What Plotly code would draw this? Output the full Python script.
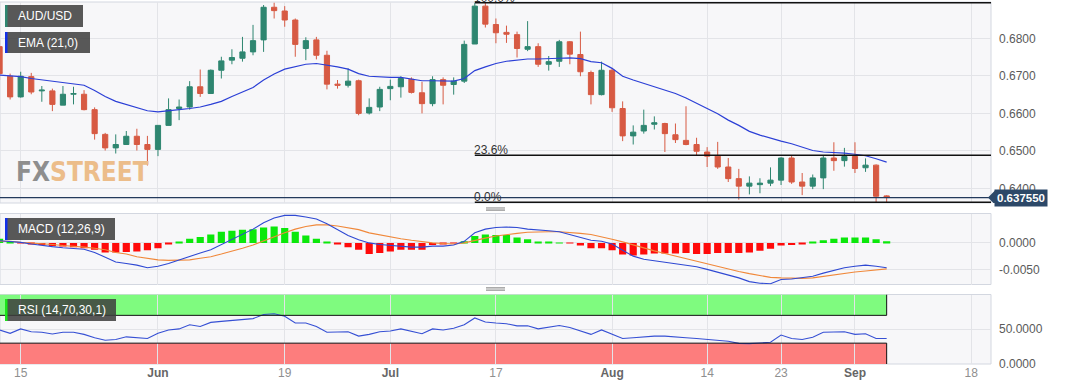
import pandas as pd
import plotly.graph_objects as go

# ---------------- data ----------------
dates = pd.bdate_range("2023-05-11", "2023-09-06")      # daily candles
calendar = pd.bdate_range("2023-05-11", "2023-09-29")   # trading-day axis

open_ = [
    0.6778, 0.6699, 0.6644, 0.6698, 0.6660, 0.6660, 0.6622, 0.6651, 0.6651, 0.6610,
    0.6544, 0.6508, 0.6517, 0.6539, 0.6517, 0.6504, 0.6568, 0.6613, 0.6617, 0.6671,
    0.6653, 0.6715, 0.6742, 0.6747, 0.6764, 0.6796, 0.6883, 0.6873, 0.6849, 0.6773,
    0.6796, 0.6755, 0.6678, 0.6675, 0.6687, 0.6601, 0.6617, 0.6666, 0.6671, 0.6691,
    0.6655, 0.6626, 0.6690, 0.6677, 0.6686, 0.6785, 0.6886, 0.6837, 0.6816, 0.6810,
    0.6771, 0.6778, 0.6731, 0.6739, 0.6791, 0.6757, 0.6709, 0.6650, 0.6715, 0.6613,
    0.6540, 0.6553, 0.6571, 0.6573, 0.6543, 0.6528, 0.6517, 0.6497, 0.6486, 0.6457,
    0.6426, 0.6406, 0.6410, 0.6414, 0.6422, 0.6481, 0.6417, 0.6406, 0.6428, 0.6481,
    0.6474, 0.6485, 0.6455, 0.6462, 0.6380]
high = [
    0.6796, 0.6706, 0.6711, 0.6708, 0.6673, 0.6666, 0.6673, 0.6671, 0.6662, 0.6616,
    0.6548, 0.6544, 0.6553, 0.6559, 0.6540, 0.6568, 0.6640, 0.6637, 0.6686, 0.6717,
    0.6717, 0.6751, 0.6771, 0.6804, 0.6836, 0.6889, 0.6895, 0.6886, 0.6853, 0.6803,
    0.6804, 0.6767, 0.6689, 0.6720, 0.6690, 0.6640, 0.6671, 0.6690, 0.6699, 0.6696,
    0.6684, 0.6699, 0.6696, 0.6696, 0.6794, 0.6894, 0.6895, 0.6853, 0.6834, 0.6818,
    0.6846, 0.6787, 0.6753, 0.6796, 0.6793, 0.6818, 0.6714, 0.6738, 0.6720, 0.6632,
    0.6568, 0.6610, 0.6592, 0.6575, 0.6573, 0.6619, 0.6535, 0.6510, 0.6524, 0.6481,
    0.6452, 0.6432, 0.6427, 0.6456, 0.6483, 0.6488, 0.6441, 0.6437, 0.6488, 0.6523,
    0.6508, 0.6523, 0.6480, 0.6464, 0.6382]
low = [
    0.6689, 0.6637, 0.6642, 0.6651, 0.6631, 0.6606, 0.6622, 0.6624, 0.6608, 0.6530,
    0.6501, 0.6493, 0.6517, 0.6501, 0.6461, 0.6486, 0.6568, 0.6582, 0.6610, 0.6644,
    0.6653, 0.6693, 0.6731, 0.6738, 0.6755, 0.6764, 0.6853, 0.6831, 0.6751, 0.6742,
    0.6744, 0.6664, 0.6666, 0.6669, 0.6595, 0.6597, 0.6606, 0.6635, 0.6642, 0.6653,
    0.6600, 0.6619, 0.6624, 0.6650, 0.6681, 0.6785, 0.6829, 0.6787, 0.6788, 0.6749,
    0.6766, 0.6724, 0.6714, 0.6724, 0.6731, 0.6699, 0.6624, 0.6648, 0.6604, 0.6526,
    0.6517, 0.6546, 0.6557, 0.6497, 0.6521, 0.6515, 0.6488, 0.6457, 0.6452, 0.6417,
    0.6370, 0.6384, 0.6387, 0.6406, 0.6409, 0.6412, 0.6382, 0.6398, 0.6398, 0.6447,
    0.6458, 0.6441, 0.6444, 0.6355, 0.6355]
close = [
    0.6706, 0.6644, 0.6699, 0.6657, 0.6662, 0.6624, 0.6651, 0.6653, 0.6610, 0.6546,
    0.6508, 0.6517, 0.6539, 0.6517, 0.6504, 0.6568, 0.6610, 0.6617, 0.6671, 0.6653,
    0.6715, 0.6740, 0.6749, 0.6764, 0.6794, 0.6883, 0.6874, 0.6849, 0.6784, 0.6794,
    0.6755, 0.6678, 0.6675, 0.6686, 0.6600, 0.6616, 0.6664, 0.6672, 0.6693, 0.6656,
    0.6626, 0.6690, 0.6675, 0.6686, 0.6784, 0.6886, 0.6838, 0.6815, 0.6811, 0.6773,
    0.6778, 0.6731, 0.6738, 0.6791, 0.6758, 0.6711, 0.6650, 0.6715, 0.6615, 0.6540,
    0.6550, 0.6568, 0.6575, 0.6546, 0.6530, 0.6517, 0.6499, 0.6486, 0.6457, 0.6426,
    0.6406, 0.6414, 0.6414, 0.6422, 0.6481, 0.6417, 0.6406, 0.6428, 0.6481, 0.6474,
    0.6485, 0.6453, 0.6462, 0.6379, 0.63755]
ema21 = [
    0.6702, 0.6700, 0.6698, 0.6693, 0.6689, 0.6686, 0.6682, 0.6679, 0.6675, 0.6661,
    0.6645, 0.6632, 0.6623, 0.6615, 0.6607, 0.6604, 0.6606, 0.6610, 0.6613, 0.6617,
    0.6624, 0.6632, 0.6645, 0.6658, 0.6669, 0.6689, 0.6705, 0.6718, 0.6724, 0.6731,
    0.6733, 0.6729, 0.6724, 0.6718, 0.6706, 0.6699, 0.6697, 0.6696, 0.6696, 0.6691,
    0.6687, 0.6687, 0.6686, 0.6686, 0.6693, 0.6714, 0.6724, 0.6733, 0.6739, 0.6742,
    0.6745, 0.6745, 0.6745, 0.6747, 0.6748, 0.6746, 0.6738, 0.6735, 0.6720, 0.6699,
    0.6689, 0.6680, 0.6673, 0.6664, 0.6653, 0.6641, 0.6626, 0.6613, 0.6599, 0.6582,
    0.6568, 0.6552, 0.6542, 0.6533, 0.6526, 0.6519, 0.6510, 0.6501, 0.6497, 0.6496,
    0.6494, 0.6491, 0.6487, 0.6479, 0.6470]
macd = [
    0.0004, 0.0003, 0.0001, -0.0002, -0.0005, -0.0007, -0.0009, -0.0010, -0.0012, -0.0018,
    -0.0027, -0.0036, -0.0039, -0.0042, -0.0047, -0.0044, -0.0039, -0.0032, -0.0026, -0.0019,
    -0.0013, -0.0003, 0.0006, 0.0016, 0.0026, 0.0038, 0.0047, 0.0052, 0.0052, 0.0049,
    0.0045, 0.0036, 0.0025, 0.0014, 0.0006, 0.0000, -0.0003, -0.0005, -0.0006, -0.0008,
    -0.0008, -0.0006, -0.0006, -0.0004, 0.0003, 0.0019, 0.0026, 0.0029, 0.0030, 0.0029,
    0.0026, 0.0025, 0.0023, 0.0021, 0.0016, 0.0010, 0.0005, 0.0003, -0.0002, -0.0014,
    -0.0025, -0.0031, -0.0034, -0.0037, -0.0040, -0.0042, -0.0045, -0.0050, -0.0055, -0.0060,
    -0.0066, -0.0073, -0.0076, -0.0077, -0.0069, -0.0068, -0.0066, -0.0063, -0.0057, -0.0052,
    -0.0047, -0.0044, -0.0042, -0.0044, -0.0047]
signal = [
    0.0003, 0.0003, 0.0001, 0.0000, -0.0001, -0.0003, -0.0005, -0.0006, -0.0008, -0.0010,
    -0.0013, -0.0018, -0.0021, -0.0026, -0.0029, -0.0032, -0.0033, -0.0033, -0.0032, -0.0029,
    -0.0026, -0.0021, -0.0016, -0.0010, -0.0004, 0.0004, 0.0012, 0.0019, 0.0026, 0.0031,
    0.0034, 0.0034, 0.0032, 0.0029, 0.0025, 0.0019, 0.0015, 0.0011, 0.0008, 0.0005,
    0.0002, 0.0000, -0.0001, -0.0002, 0.0000, 0.0005, 0.0009, 0.0013, 0.0016, 0.0018,
    0.0020, 0.0021, 0.0021, 0.0021, 0.0020, 0.0018, 0.0016, 0.0012, 0.0007, 0.0002,
    -0.0004, -0.0010, -0.0015, -0.0020, -0.0025, -0.0030, -0.0034, -0.0039, -0.0044, -0.0049,
    -0.0054, -0.0058, -0.0062, -0.0065, -0.0066, -0.0067, -0.0067, -0.0066, -0.0063, -0.0060,
    -0.0057, -0.0055, -0.0053, -0.0051, -0.0049]
hist = [
    0.0008, 0.0002, -0.0001, -0.0002, -0.0004, -0.0006, -0.0007, -0.0008, -0.0010, -0.0013,
    -0.0018, -0.0018, -0.0017, -0.0016, -0.0014, -0.0010, -0.0003, 0.0001, 0.0008, 0.0011,
    0.0016, 0.0021, 0.0023, 0.0025, 0.0026, 0.0029, 0.0031, 0.0028, 0.0021, 0.0014,
    0.0008, 0.0001, -0.0002, -0.0008, -0.0013, -0.0021, -0.0019, -0.0016, -0.0013, -0.0013,
    -0.0013, -0.0004, -0.0002, -0.0001, 0.0003, 0.0013, 0.0016, 0.0015, 0.0015, 0.0010,
    0.0007, 0.0001, 0.0001, 0.00005, -0.0001, -0.0005, -0.0010, -0.0010, -0.0014, -0.0022,
    -0.0024, -0.0022, -0.0020, -0.0020, -0.0020, -0.0019, -0.0021, -0.0021, -0.0019, -0.0019,
    -0.0019, -0.0018, -0.0015, -0.0011, -0.0005, -0.0004, -0.0002, 0.0001, 0.0005, 0.0008,
    0.0010, 0.0010, 0.0010, 0.0007, 0.0003]
rsi = [
    49.0, 44.1, 50.5, 46.5, 45.6, 43.1, 45.6, 45.6, 42.6, 37.7,
    34.2, 35.2, 39.1, 37.7, 36.7, 44.1, 49.0, 50.5, 56.4, 54.0,
    59.9, 61.4, 62.4, 63.3, 65.3, 71.2, 72.2, 68.8, 58.9, 58.9,
    54.0, 45.6, 45.6, 46.5, 40.1, 42.6, 46.5, 47.5, 50.5, 46.5,
    43.6, 50.5, 49.0, 51.5, 56.4, 66.3, 60.4, 58.9, 57.9, 54.9,
    54.9, 50.5, 52.5, 55.4, 52.5, 47.5, 42.6, 49.0, 42.6, 36.7,
    37.7, 39.1, 40.1, 40.1, 38.6, 37.7, 36.7, 35.7, 34.7, 32.7,
    29.7, 29.3, 30.2, 31.2, 41.6, 36.7, 35.2, 38.6, 45.6, 45.6,
    46.5, 42.6, 43.6, 36.7, 36.7]

tick_dates = ["2023-05-15", "2023-06-01", "2023-06-19", "2023-07-03", "2023-07-17",
              "2023-08-01", "2023-08-14", "2023-08-23", "2023-09-01", "2023-09-18"]
tick_labels = ["15", "Jun", "19", "Jul", "17", "Aug", "14", "23", "Sep", "18"]
month_labels = ["Jun", "Jul", "Aug", "Sep"]

price_ticks = [0.64, 0.65, 0.66, 0.67, 0.68]
macd_ticks = [0.0, -0.005]
rsi_ticks = [0, 50]

fib_levels = [0.6895, 0.64886, 0.6363]
fib_labels = ["100.0%", "23.6%", "0.0%"]
fib_start = "2023-07-13"
last_price = 0.63755
rsi_upper, rsi_lower = 70, 30

# ---------------- geometry / style ----------------
W, H = 1067, 386
ML, MR, MT, MB = 0, 76, 2, 22
PW, PH = W - ML - MR, H - MT - MB


def pxx(p):
    return p / PW


def pxy(p):
    return (H - MB - p) / PH


FONT = "Liberation Sans, Arial, sans-serif"
BG = "#f7f7f9"
GRID = "#e3e4e8"
BORDER = "#d3d7e0"
UP, DOWN = "#2e8670", "#d75a43"
X_RANGE = [0.04, 93.88]

x = [calendar.get_loc(d) for d in dates]
tickvals = [calendar.get_loc(pd.Timestamp(d)) for d in tick_dates]
ticktext = [("<b>%s</b>" % t) if t in month_labels else
            ("<span style='color:#8f8f8f'>%s</span>" % t) for t in tick_labels]
fib_x = calendar.get_loc(pd.Timestamp(fib_start))
last_x = x[-1]

fig = go.Figure()
fig.add_trace(go.Candlestick(
    x=x, open=open_, high=high, low=low, close=close,
    increasing=dict(line=dict(color=UP, width=1), fillcolor=UP),
    decreasing=dict(line=dict(color=DOWN, width=1), fillcolor=DOWN),
    whiskerwidth=0, xaxis="x", yaxis="y", hoverinfo="skip"))
fig.add_trace(go.Scatter(x=x, y=ema21, mode="lines",
                         line=dict(color="#2b3fd6", width=1.2), xaxis="x", yaxis="y"))

fig.add_trace(go.Bar(x=x, y=hist, width=0.68,
                     marker=dict(color=["#0be80b" if v >= 0 else "#ff0a0a" for v in hist], line_width=0),
                     xaxis="x2", yaxis="y2"))
fig.add_trace(go.Scatter(x=x, y=signal, mode="lines",
                         line=dict(color="#f0883a", width=1.1), xaxis="x2", yaxis="y2"))
fig.add_trace(go.Scatter(x=x, y=macd, mode="lines",
                         line=dict(color="#2f49d3", width=1.1), xaxis="x2", yaxis="y2"))

fig.add_trace(go.Scatter(x=x, y=rsi, mode="lines",
                         line=dict(color="#3650d4", width=1.1), xaxis="x3", yaxis="y3"))

common_x = dict(range=X_RANGE, tickvals=tickvals, ticktext=ticktext, showgrid=True,
                gridcolor=GRID, gridwidth=1, zeroline=False, showline=False, ticks="",
                fixedrange=True)
common_y = dict(side="right", showgrid=True, gridcolor=GRID, gridwidth=1, zeroline=False,
                showline=False, ticks="", ticklabelstandoff=7,
                tickfont=dict(family=FONT, size=12, color="#5a5a5a"), fixedrange=True)

fig.update_layout(
    width=W, height=H, margin=dict(l=ML, r=MR, t=MT, b=MB),
    paper_bgcolor="white", plot_bgcolor="rgba(0,0,0,0)", showlegend=False,
    font=dict(family=FONT), hovermode=False, bargap=0.3,
    xaxis=dict(common_x, domain=[0, 1], anchor="y", showticklabels=False,
               rangeslider=dict(visible=False)),
    xaxis2=dict(common_x, domain=[0, 1], anchor="y2", matches="x", showticklabels=False),
    xaxis3=dict(common_x, domain=[0, 1], anchor="y3", matches="x", showticklabels=True,
                tickfont=dict(family=FONT, size=12, color="#666666")),
    yaxis=dict(common_y, domain=[pxy(203), 1], anchor="x", range=[0.6361, 0.6897],
               tickvals=price_ticks, ticktext=["%.4f" % v for v in price_ticks]),
    yaxis2=dict(common_y, domain=[pxy(284.5), pxy(213.5)], anchor="x2",
                range=[-0.00785, 0.00555], tickvals=macd_ticks,
                ticktext=["%.4f" % v for v in macd_ticks]),
    yaxis3=dict(common_y, domain=[0, pxy(294.5)], anchor="x3", range=[0, 100],
                tickvals=rsi_ticks, ticktext=["%.4f" % v for v in rsi_ticks]),
)

shapes = []
# panel backgrounds
for xa, ya in [("x", "y"), ("x2", "y2"), ("x3", "y3")]:
    shapes.append(dict(type="rect", xref=xa + " domain", yref=ya + " domain",
                       x0=0, x1=1, y0=0, y1=1, fillcolor=BG,
                       line=dict(color=BORDER, width=1), layer="below"))
# RSI zones
shapes.append(dict(type="rect", xref="x3", yref="y3", x0=X_RANGE[0], x1=last_x,
                   y0=rsi_upper, y1=100, fillcolor="#7ffb7f", line_width=0, layer="below"))
shapes.append(dict(type="rect", xref="x3", yref="y3", x0=X_RANGE[0], x1=last_x,
                   y0=0, y1=rsi_lower, fillcolor="#fd7d7d", line_width=0, layer="below"))
for yv, y0, y1 in [(rsi_upper, rsi_upper, 100), (rsi_lower, 0, rsi_lower)]:
    shapes.append(dict(type="line", xref="x3", yref="y3", x0=X_RANGE[0], x1=last_x,
                       y0=yv, y1=yv, line=dict(color="#111111", width=1)))
    shapes.append(dict(type="line", xref="x3", yref="y3", x0=last_x, x1=last_x,
                       y0=y0, y1=y1, line=dict(color="#111111", width=1)))
# Fibonacci levels
for lv in fib_levels:
    shapes.append(dict(type="line", xref="x", yref="y", x0=fib_x, x1=X_RANGE[1],
                       y0=lv, y1=lv, line=dict(color="#111111", width=1.5)))
# last price line
shapes.append(dict(type="line", xref="x domain", yref="y", x0=0, x1=1,
                   y0=last_price, y1=last_price, line=dict(color="#233a5c", width=1.2)))
# price tag pointer
shapes.append(dict(type="path", xref="paper", yref="y",
                   path="M %f,%f L %f,%f L %f,%f Z" % (pxx(988), last_price,
                                                      pxx(995), last_price + 0.0019,
                                                      pxx(995), last_price - 0.0019),
                   fillcolor="#2c4868", line_width=0))
# legend boxes
boxes = [(5, 83, 5, 27, UP), (5, 90, 32, 53, "#1230e8"),
         (5, 115, 218, 240, "#1230e8"), (5, 116, 299, 321, "#19e619")]
for x0, x1, y0, y1, acc in boxes:
    shapes.append(dict(type="rect", xref="paper", yref="paper", x0=pxx(x0), x1=pxx(x1),
                       y0=pxy(y1), y1=pxy(y0), fillcolor="rgba(62,62,62,0.86)", line_width=0))
    shapes.append(dict(type="rect", xref="paper", yref="paper", x0=pxx(x0), x1=pxx(x0 + 2.5),
                       y0=pxy(y1), y1=pxy(y0), fillcolor=acc, line_width=0))
# pane resize handles
for ys in [(207.8, 209.1, 210.4), (287.6, 289.0, 290.4)]:
    for yy in ys:
        shapes.append(dict(type="line", xref="paper", yref="paper", x0=pxx(486), x1=pxx(505),
                           y0=pxy(yy), y1=pxy(yy), line=dict(color="#8a8a8a", width=0.8)))
fig.update_layout(shapes=shapes)

ann = []
legend_txt = [("AUD/USD", 16), ("EMA (21,0)", 42.5), ("MACD (12,26,9)", 229), ("RSI (14,70,30,1)", 310)]
for t, yy in legend_txt:
    ann.append(dict(text=t, xref="paper", yref="paper", x=pxx(16), y=pxy(yy),
                    xanchor="left", yanchor="middle", showarrow=False,
                    font=dict(family=FONT, size=12, color="white")))
for lv, lab in zip(fib_levels, fib_labels):
    ann.append(dict(text=lab, xref="x", yref="y", x=fib_x, y=lv, xanchor="left",
                    yanchor="bottom", showarrow=False, xshift=-3, yshift=-4,
                    font=dict(family=FONT, size=12, color="#333333")))
ann.append(dict(text="<b><span style='color:#8e8e8e'>FX</span><span style='color:#ecbd8a'>STREET</span></b>",
                xref="paper", yref="paper", x=pxx(14), y=pxy(171.5), xanchor="left",
                yanchor="middle", showarrow=False,
                font=dict(family="DejaVu Sans Condensed, Liberation Sans Narrow, sans-serif", size=26)))
ann.append(dict(text="<b>0.637550</b>", xref="paper", yref="y", x=pxx(994.5), y=last_price,
                xanchor="left", yanchor="middle", showarrow=False, bgcolor="#2c4868",
                borderpad=2, font=dict(family=FONT, size=11.5, color="white")))
fig.update_layout(annotations=ann)

fig.write_html("out.html", config={"displayModeBar": False},
               post_script="document.body.style.margin='0';")
